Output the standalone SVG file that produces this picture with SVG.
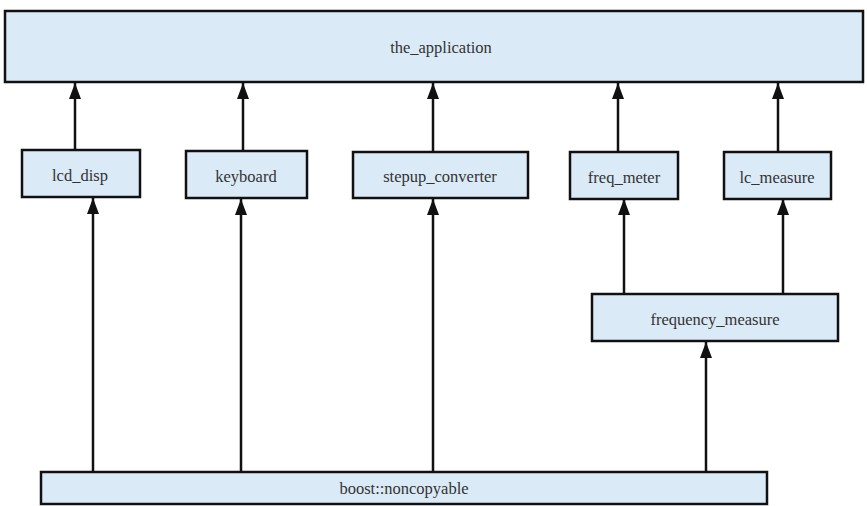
<svg xmlns="http://www.w3.org/2000/svg" width="867" height="506" viewBox="0 0 867 506">
<style>
.box{fill:#dbeaf7;stroke:#111;stroke-width:2.5}
text.lbl{font-family:"Liberation Serif","Times New Roman",serif;font-size:16.5px;fill:#333;text-anchor:middle}
.edge{stroke:#111;stroke-width:2.5;fill:none;marker-end:url(#ah)}
</style>
<defs>
<marker id="ah" viewBox="0 0 16 12" refX="16" refY="6" markerWidth="16" markerHeight="12" markerUnits="userSpaceOnUse" orient="auto">
<path d="M0,0 L16,6 L0,12 z" fill="#111"/>
</marker>
</defs>
<rect width="867" height="506" fill="#fff"/>
<g id="connectors">
<line class="edge" x1="75" y1="150" x2="75" y2="83"/>
<line class="edge" x1="243" y1="151" x2="243" y2="83"/>
<line class="edge" x1="433" y1="152" x2="433" y2="83"/>
<line class="edge" x1="618" y1="152" x2="618" y2="83"/>
<line class="edge" x1="778" y1="152" x2="778" y2="83"/>
<line class="edge" x1="93" y1="472" x2="93" y2="198"/>
<line class="edge" x1="241" y1="472" x2="241" y2="199"/>
<line class="edge" x1="433" y1="472" x2="433" y2="199"/>
<line class="edge" x1="706" y1="472" x2="706" y2="342"/>
<line class="edge" x1="624" y1="294" x2="624" y2="199"/>
<line class="edge" x1="783" y1="294" x2="783" y2="199"/>
</g>
<g id="the_application"><rect class="box" x="5" y="11" width="858" height="71"/><text class="lbl" x="441" y="53">the_application</text></g>
<g id="lcd_disp"><rect class="box" x="22" y="150" width="118" height="47"/><text class="lbl" x="80" y="181">lcd_disp</text></g>
<g id="keyboard"><rect class="box" x="186" y="151" width="121" height="47"/><text class="lbl" x="246" y="182">keyboard</text></g>
<g id="stepup_converter"><rect class="box" x="353" y="152" width="175" height="46"/><text class="lbl" x="440" y="182">stepup_converter</text></g>
<g id="freq_meter"><rect class="box" x="570" y="152" width="108" height="47"/><text class="lbl" x="624" y="183">freq_meter</text></g>
<g id="lc_measure"><rect class="box" x="724" y="152" width="107" height="47"/><text class="lbl" x="777" y="183">lc_measure</text></g>
<g id="frequency_measure"><rect class="box" x="592" y="294" width="246" height="47"/><text class="lbl" x="715" y="325">frequency_measure</text></g>
<g id="boost_noncopyable"><rect class="box" x="41" y="472" width="726" height="32"/><text class="lbl" x="404" y="494">boost::noncopyable</text></g>
</svg>
